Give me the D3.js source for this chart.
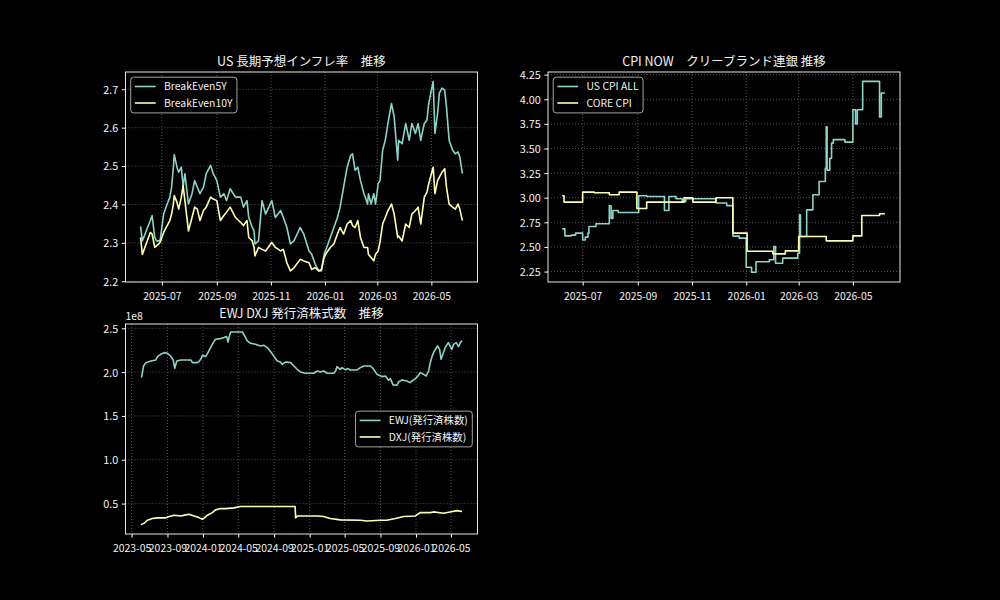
<!DOCTYPE html>
<html>
<head>
<meta charset="utf-8">
<script src="https://cdn.jsdelivr.net/npm/d3@7"></script>
<style>
body { margin: 0; background: #000; }
svg { display: block; }
text { font-family: "Noto Sans CJK JP", sans-serif; fill: #f2f2f2; }
.grid { stroke: #6a6a6a; stroke-width: 0.8; stroke-dasharray: 1 2; }
</style>
</head>
<body>
<div id="chart"></div>
<script>

// ---- US breakeven inflation (same observation dates for both series)
const breakevenDates = [
    "2025-06-07","2025-06-09","2025-06-18","2025-06-20","2025-06-23","2025-06-25","2025-06-29","2025-07-03","2025-07-07","2025-07-10",
    "2025-07-12","2025-07-14","2025-07-15","2025-07-18","2025-07-20","2025-07-23","2025-07-25","2025-07-27","2025-07-31","2025-08-04",
    "2025-08-07","2025-08-10","2025-08-13","2025-08-17","2025-08-20","2025-08-25","2025-08-28","2025-09-01","2025-09-05","2025-09-09",
    "2025-09-12","2025-09-16","2025-09-22","2025-09-28","2025-10-01","2025-10-05","2025-10-07","2025-10-11","2025-10-13","2025-10-14",
    "2025-10-18","2025-10-22","2025-10-26","2025-11-02","2025-11-06","2025-11-12","2025-11-15","2025-11-19","2025-11-23","2025-11-27",
    "2025-12-04","2025-12-08","2025-12-14","2025-12-17","2025-12-21","2025-12-25","2025-12-28","2025-12-31","2026-01-03","2026-01-07",
    "2026-01-11","2026-01-15","2026-01-18","2026-01-22","2026-01-26","2026-01-30","2026-02-01","2026-02-04","2026-02-07","2026-02-10",
    "2026-02-14","2026-02-18","2026-02-19","2026-02-22","2026-02-25","2026-02-27","2026-03-02","2026-03-04","2026-03-07","2026-03-10",
    "2026-03-13","2026-03-17","2026-03-20","2026-03-24","2026-03-25","2026-03-29","2026-04-02","2026-04-06","2026-04-09","2026-04-13",
    "2026-04-16","2026-04-19","2026-04-23","2026-04-26","2026-04-28","2026-05-01","2026-05-03","2026-05-05","2026-05-08","2026-05-10",
    "2026-05-13","2026-05-16","2026-05-18","2026-05-21","2026-05-25","2026-05-28","2026-05-31","2026-06-02","2026-06-05"
];
const breakEven5Y = [
    2.343, 2.305, 2.358, 2.371, 2.314, 2.305, 2.305, 2.375, 2.401, 2.419,
    2.445, 2.497, 2.530, 2.497, 2.484, 2.497, 2.445, 2.480, 2.401, 2.428,
    2.462, 2.445, 2.428, 2.445, 2.480, 2.502, 2.480, 2.462, 2.419, 2.428,
    2.410, 2.441, 2.419, 2.419, 2.393, 2.410, 2.366, 2.340, 2.331, 2.297,
    2.305, 2.410, 2.375, 2.410, 2.366, 2.384, 2.366, 2.340, 2.297, 2.305,
    2.340, 2.323, 2.279, 2.270, 2.244, 2.227, 2.227, 2.270, 2.288, 2.314,
    2.340, 2.366, 2.393, 2.445, 2.497, 2.528, 2.532, 2.489, 2.497, 2.462,
    2.428, 2.401, 2.428, 2.401, 2.428, 2.401, 2.454, 2.462, 2.541, 2.567,
    2.611, 2.663, 2.628, 2.515, 2.567, 2.558, 2.611, 2.567, 2.611, 2.585,
    2.611, 2.567, 2.611, 2.620, 2.663, 2.698, 2.720, 2.585, 2.637, 2.690,
    2.703, 2.698, 2.655, 2.567, 2.541, 2.532, 2.537, 2.524, 2.480
];
const breakEven10Y = [
    2.314, 2.270, 2.327, 2.323, 2.288, 2.292, 2.301, 2.327, 2.345, 2.358,
    2.375, 2.401, 2.423, 2.406, 2.388, 2.419, 2.449, 2.410, 2.331, 2.366,
    2.393, 2.388, 2.358, 2.384, 2.393, 2.419, 2.414, 2.410, 2.358, 2.371,
    2.380, 2.393, 2.366, 2.353, 2.345, 2.358, 2.314, 2.305, 2.288, 2.266,
    2.288, 2.283, 2.279, 2.301, 2.288, 2.279, 2.283, 2.248, 2.227, 2.235,
    2.257, 2.253, 2.248, 2.231, 2.235, 2.227, 2.231, 2.262, 2.275, 2.288,
    2.297, 2.323, 2.340, 2.323, 2.349, 2.358, 2.345, 2.340, 2.358, 2.314,
    2.288, 2.288, 2.270, 2.262, 2.253, 2.270, 2.279, 2.301, 2.349, 2.366,
    2.384, 2.401, 2.375, 2.314, 2.318, 2.305, 2.349, 2.340, 2.375, 2.384,
    2.393, 2.349, 2.419, 2.432, 2.454, 2.480, 2.497, 2.428, 2.462, 2.471,
    2.484, 2.493, 2.445, 2.401, 2.393, 2.388, 2.401, 2.388, 2.358
];

// ---- Cleveland Fed CPI nowcast (value holds from each date until the next)
const cpiAllDates = [
    "2025-06-08","2025-06-11","2025-06-18","2025-06-23","2025-07-01","2025-07-04","2025-07-07","2025-07-08","2025-07-16","2025-07-31",
    "2025-08-02","2025-08-04","2025-08-10","2025-09-02","2025-09-11","2025-10-01","2025-10-06","2025-10-14","2025-10-21","2025-10-25",
    "2025-11-28","2025-12-10","2025-12-17","2025-12-24","2026-01-01","2026-01-07","2026-01-12","2026-01-27","2026-02-01","2026-02-03",
    "2026-02-11","2026-02-28","2026-03-02","2026-03-03","2026-03-10","2026-03-17","2026-03-24","2026-03-31","2026-04-01","2026-04-02",
    "2026-04-05","2026-04-07","2026-04-09","2026-04-22","2026-05-01","2026-05-04","2026-05-06","2026-05-12","2026-05-31","2026-06-02",
    "2026-06-06"
];
const cpiAllValues = [
    2.684, 2.612, 2.620, 2.640, 2.570, 2.600, 2.640, 2.708, 2.735, 2.918,
    2.790, 2.870, 2.850, 3.020, 3.013, 2.870, 3.013, 2.990, 2.960, 2.990,
    2.946, 2.920, 2.610, 2.590, 2.294, 2.243, 2.350, 2.370, 2.504, 2.335,
    2.386, 2.436, 2.826, 2.606, 2.877, 3.030, 3.165, 3.300, 3.720, 3.280,
    3.400, 3.555, 3.590, 3.565, 3.894, 3.750, 3.894, 4.182, 3.820, 4.064,
    4.064
];
const coreCpiDates = [
    "2025-06-08","2025-06-10","2025-07-01","2025-07-14","2025-07-31","2025-08-11","2025-08-31","2025-09-11","2025-10-23","2025-11-02",
    "2025-11-28","2025-12-17","2026-01-02","2026-01-31","2026-02-14","2026-03-01","2026-04-01","2026-05-01","2026-05-11","2026-05-31",
    "2026-06-06"
];
const coreCpiValues = [
    3.020, 2.955, 3.057, 3.050, 3.030, 3.057, 2.890, 2.955, 3.000, 2.955,
    3.000, 2.640, 2.457, 2.430, 2.460, 2.606, 2.562, 2.612, 2.820, 2.837,
    2.837
];

// ---- EWJ / DXJ shares outstanding (units of 1e8 shares)
const ewjDates = [
    "2023-06-04","2023-06-11","2023-06-19","2023-07-06","2023-07-23","2023-07-29","2023-08-09","2023-08-21","2023-09-01","2023-09-12",
    "2023-09-21","2023-09-26","2023-10-03","2023-10-17","2023-11-20","2023-11-26","2023-12-13","2023-12-18","2023-12-24","2023-12-30",
    "2024-01-10","2024-01-18","2024-01-27","2024-02-05","2024-02-13","2024-03-01","2024-03-13","2024-03-22","2024-03-27","2024-03-31",
    "2024-04-05","2024-05-15","2024-05-23","2024-06-01","2024-06-12","2024-06-29","2024-07-16","2024-07-28","2024-08-09","2024-08-21",
    "2024-09-01","2024-09-12","2024-09-23","2024-09-29","2024-10-11","2024-10-28","2024-11-08","2024-11-19","2024-11-30","2024-12-17",
    "2025-01-15","2025-01-27","2025-02-07","2025-02-18","2025-03-02","2025-03-25","2025-03-31","2025-04-05","2025-04-16","2025-04-22",
    "2025-05-04","2025-05-10","2025-05-21","2025-06-13","2025-06-24","2025-07-06","2025-07-29","2025-08-09","2025-08-20","2025-09-06",
    "2025-09-18","2025-09-29","2025-10-05","2025-10-14","2025-10-28","2025-11-02","2025-11-14","2025-12-01","2025-12-12","2025-12-18",
    "2025-12-30","2026-01-10","2026-01-15","2026-01-27","2026-02-05","2026-02-13","2026-02-19","2026-02-25","2026-03-02","2026-03-16",
    "2026-03-23","2026-03-28","2026-04-03","2026-04-11","2026-04-22","2026-05-04","2026-05-10","2026-05-19","2026-05-27","2026-06-02",
    "2026-06-08"
];
const ewjShares = [
    1.937, 2.070, 2.108, 2.127, 2.139, 2.177, 2.203, 2.222, 2.215, 2.184,
    2.135, 2.044, 2.127, 2.139, 2.139, 2.108, 2.108, 2.120, 2.146, 2.192,
    2.177, 2.222, 2.279, 2.336, 2.375, 2.382, 2.394, 2.405, 2.344, 2.405,
    2.458, 2.458, 2.413, 2.356, 2.329, 2.317, 2.298, 2.306, 2.279, 2.230,
    2.177, 2.127, 2.116, 2.089, 2.116, 2.108, 2.070, 2.032, 2.002, 1.987,
    1.987, 2.013, 2.002, 2.013, 1.987, 1.987, 2.013, 2.063, 2.032, 2.051,
    2.025, 2.040, 2.025, 2.025, 2.051, 2.070, 2.070, 2.032, 1.975, 1.949,
    1.956, 1.907, 1.926, 1.854, 1.850, 1.888, 1.911, 1.899, 1.880, 1.899,
    1.926, 1.964, 1.994, 1.975, 1.956, 2.013, 2.108, 2.177, 2.222, 2.298,
    2.260, 2.146, 2.203, 2.279, 2.336, 2.260, 2.317, 2.336, 2.291, 2.336,
    2.356
];
const dxjDates = [
    "2023-06-02","2023-06-13","2023-06-24","2023-07-11","2023-07-29","2023-08-26","2023-09-07","2023-09-24","2023-10-17","2023-11-03",
    "2023-11-14","2023-12-01","2023-12-18","2023-12-30","2024-01-07","2024-01-16","2024-02-02","2024-02-13","2024-03-01","2024-03-19",
    "2024-04-16","2024-05-09","2024-11-12","2024-11-14","2024-11-19","2025-01-27","2025-02-18","2025-03-13","2025-04-16","2025-06-24",
    "2025-07-17","2025-08-31","2025-09-23","2025-10-22","2025-11-20","2025-12-30","2026-01-15","2026-02-19","2026-03-02","2026-04-05",
    "2026-04-28","2026-05-21","2026-06-08"
];
const dxjShares = [
    0.260, 0.276, 0.310, 0.329, 0.337, 0.337, 0.352, 0.367, 0.359, 0.371,
    0.378, 0.359, 0.340, 0.321, 0.340, 0.367, 0.397, 0.428, 0.443, 0.443,
    0.451, 0.466, 0.466, 0.337, 0.359, 0.359, 0.352, 0.329, 0.314, 0.310,
    0.302, 0.310, 0.310, 0.329, 0.352, 0.359, 0.397, 0.397, 0.405, 0.390,
    0.405, 0.420, 0.409
];

// tick values
const recentDateTicks = ["2025-07-01","2025-09-01","2025-11-01","2026-01-01","2026-03-01","2026-05-01"];
const longDateTicks = ["2023-05-01","2023-09-01","2024-01-01","2024-05-01","2024-09-01","2025-01-01","2025-05-01","2025-09-01","2026-01-01","2026-05-01"];
const breakevenTicks = [2.2, 2.3, 2.4, 2.5, 2.6, 2.7];
const cpiTicks = [2.25, 2.5, 2.75, 3.0, 3.25, 3.5, 3.75, 4.0, 4.25];
const sharesTicks = [0.5, 1.0, 1.5, 2.0, 2.5];

const teal = '#8dd3c7';
const yellow = '#feffb3';
const FS = 10.4;
const YTICK_FS = 10.8;

const svg = d3.select('#chart').append('svg')
    .attr('width', 1000)
    .attr('height', 600)
    .style('background', '#000');

const parse = d3.timeParse('%Y-%m-%d');

function drawPanel(cfg) {
    const g = svg.append('g').attr('transform', `translate(${cfg.left},${cfg.top})`);

    const x = d3.scaleTime()
        .domain(cfg.xDomain.map(parse))
        .range([0, cfg.width]);
    const y = d3.scaleLinear()
        .domain(cfg.yDomain)
        .range([cfg.height, 0]);

    const xt = cfg.xTicks.map(parse);

    // dotted grid
    g.append('g').selectAll('line').data(xt).join('line')
        .attr('class', 'grid')
        .attr('x1', d => x(d)).attr('x2', d => x(d))
        .attr('y1', 0).attr('y2', cfg.height);
    g.append('g').selectAll('line').data(cfg.yTicks).join('line')
        .attr('class', 'grid')
        .attr('x1', 0).attr('x2', cfg.width)
        .attr('y1', d => y(d)).attr('y2', d => y(d));

    cfg.series.forEach(s => {
        const pts = s.dates.map((d, i) => [parse(d), s.values[i]]);
        const line = d3.line()
            .x(d => x(d[0]))
            .y(d => y(d[1]))
            .curve(s.step ? d3.curveStepAfter : d3.curveLinear);
        g.append('path')
            .datum(pts)
            .attr('fill', 'none')
            .attr('stroke', s.color)
            .attr('stroke-width', 1.6)
            .attr('stroke-linejoin', 'round')
            .attr('d', line);
    });

    g.append('rect')
        .attr('width', cfg.width)
        .attr('height', cfg.height)
        .attr('fill', 'none')
        .attr('stroke', '#fff')
        .attr('stroke-width', 0.9);

    const gx = g.append('g')
        .attr('transform', `translate(0,${cfg.height})`)
        .call(d3.axisBottom(x).tickValues(xt).tickFormat(d3.timeFormat('%Y-%m'))
            .tickSizeInner(3.6).tickSizeOuter(0).tickPadding(3.6));
    gx.select('.domain').remove();
    gx.selectAll('line').attr('stroke', '#fff');
    gx.selectAll('text').attr('dy', null).attr('y', 17.8)
        .style('font-size', FS + 'px');

    const gy = g.append('g')
        .call(d3.axisLeft(y).tickValues(cfg.yTicks).tickFormat(d3.format(cfg.yFormat))
            .tickSizeInner(3.6).tickSizeOuter(0).tickPadding(3.6));
    gy.select('.domain').remove();
    gy.selectAll('line').attr('stroke', '#fff');
    gy.selectAll('text').attr('dy', '0.36em').style('font-size', YTICK_FS + 'px');

    svg.append('text')
        .attr('x', cfg.left + cfg.width / 2)
        .attr('y', cfg.top - 6.5)
        .attr('text-anchor', 'middle')
        .style('font-size', '12.5px')
        .text(cfg.title);

    // legend
    const lg = svg.append('g');
    const box = lg.append('rect')
        .attr('rx', 3).attr('ry', 3)
        .attr('fill', '#000').attr('fill-opacity', 0.8)
        .attr('stroke', '#b5b5b5').attr('stroke-width', 0.9);
    let textW = 0;
    cfg.series.forEach((s, i) => {
        const cy = 9.3 + i * 16.5;
        lg.append('line')
            .attr('x1', 4.2).attr('x2', 25)
            .attr('y1', cy).attr('y2', cy)
            .attr('stroke', s.color).attr('stroke-width', 1.6);
        const t = lg.append('text')
            .attr('x', 33.3).attr('y', cy).attr('dy', '0.36em')
            .style('font-size', FS + 'px')
            .text(s.name);
        textW = Math.max(textW, t.node().getComputedTextLength());
    });
    const bw = 33.3 + textW + 4.5, bh = 35.7;
    box.attr('width', bw).attr('height', bh);
    let lx, ly;
    if (cfg.legendPos === 'center right') {
        lx = cfg.left + cfg.width - 5.2 - bw;
        ly = cfg.top + cfg.height / 2 - bh / 2;
    } else {
        lx = cfg.left + 5.2;
        ly = cfg.top + 5.2;
    }
    lg.attr('transform', `translate(${lx},${ly})`);
}

drawPanel({
    left: 125.5, top: 72, width: 352, height: 210,
    xDomain: ["2025-05-21", "2026-06-22"], xTicks: recentDateTicks,
    yDomain: [2.198, 2.745], yTicks: breakevenTicks, yFormat: '.1f',
    title: 'US 長期予想インフレ率　推移',
    legendPos: 'upper left',
    series: [
        { name: 'BreakEven5Y', dates: breakevenDates, values: breakEven5Y, color: teal },
        { name: 'BreakEven10Y', dates: breakevenDates, values: breakEven10Y, color: yellow }
    ]
});

drawPanel({
    left: 548, top: 72, width: 352, height: 210,
    xDomain: ["2025-05-23", "2026-06-23"], xTicks: recentDateTicks,
    yDomain: [2.144, 4.277], yTicks: cpiTicks, yFormat: '.2f',
    title: 'CPI NOW　クリーブランド連銀 推移',
    legendPos: 'upper left',
    series: [
        { name: 'US CPI ALL', dates: cpiAllDates, values: cpiAllValues, color: teal, step: true },
        { name: 'CORE CPI', dates: coreCpiDates, values: coreCpiValues, color: yellow, step: true }
    ]
});

drawPanel({
    left: 125.5, top: 324, width: 352, height: 210,
    xDomain: ["2023-04-10", "2026-07-31"], xTicks: longDateTicks,
    yDomain: [0.153, 2.549], yTicks: sharesTicks, yFormat: '.1f',
    title: 'EWJ DXJ 発行済株式数　推移',
    legendPos: 'center right',
    series: [
        { name: 'EWJ(発行済株数)', dates: ewjDates, values: ewjShares, color: teal },
        { name: 'DXJ(発行済株数)', dates: dxjDates, values: dxjShares, color: yellow }
    ]
});

// scale offset text of the shares axis
svg.append('text')
    .attr('x', 125.5)
    .attr('y', 320)
    .style('font-size', FS + 'px')
    .text('1e8');

</script>
</body>
</html>
